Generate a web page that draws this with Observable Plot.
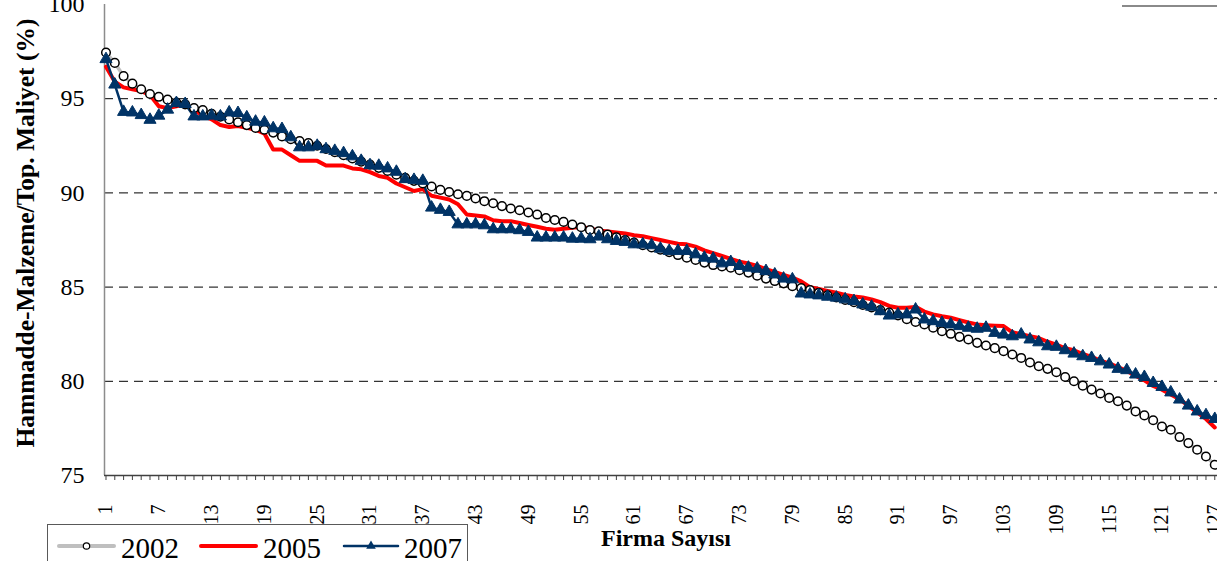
<!DOCTYPE html>
<html><head><meta charset="utf-8">
<script src="https://cdn.jsdelivr.net/npm/d3@7"></script>
<script src="https://cdn.jsdelivr.net/npm/@observablehq/plot@0.6"></script>
<style>
body{margin:0;background:#fff;}
#wrap{position:relative;width:1217px;height:561px;overflow:hidden;background:#fff;}
#legend{position:absolute;left:47px;top:524px;width:421px;height:50px;border:1.5px solid #595959;box-sizing:border-box;background:#fff;}
#topline{position:absolute;left:1122px;top:5px;width:95px;height:2px;background:#8a8a8a;}
</style></head><body>
<div id="wrap"><div id="chart"></div><div id="legend"></div><div id="topline"></div></div>
<script>
const years = ["2002", "2005", "2007"];
const colors = ["#bfbfbf", "#ff0000", "#003366"];
const firms = d3.range(1, 128);
const xLabelTicks = [1,7,13,19,25,31,37,43,49,55,61,67,73,79,85,91,97,103,109,115,121,127];
const yTicks = [75, 80, 85, 90, 95, 100];
const gridValues = [80, 85, 90, 95];
const xTitle = "Firma Sayısı";
const yTitle = "Hammadde-Malzeme/Top. Maliyet (%)";

const y2002 = [97.45,96.9,96.2,95.8,95.5,95.25,95.1,94.95,94.8,94.7,
94.5,94.4,94.2,94.05,93.9,93.75,93.6,93.45,93.35,93.2,
93.0,92.85,92.75,92.64,92.5,92.33,92.16,92.0,91.83,91.66,
91.5,91.33,91.16,90.97,90.8,90.64,90.5,90.34,90.16,90.05,
89.93,89.84,89.7,89.56,89.45,89.3,89.17,89.08,88.96,88.85,
88.67,88.56,88.46,88.32,88.18,88.03,87.96,87.79,87.64,87.5,
87.36,87.22,87.1,86.98,86.85,86.7,86.56,86.44,86.3,86.17,
86.1,86.03,85.9,85.77,85.6,85.45,85.32,85.2,85.05,84.95,
84.84,84.7,84.57,84.45,84.32,84.2,84.05,83.92,83.78,83.65,
83.5,83.3,83.15,83.02,82.84,82.66,82.52,82.36,82.22,82.04,
81.9,81.76,81.6,81.42,81.24,81.0,80.8,80.66,80.48,80.23,
80.0,79.77,79.56,79.35,79.12,78.94,78.71,78.4,78.19,77.93,
77.6,77.43,77.04,76.72,76.37,76.01,75.57];

const y2005 = [96.7,95.9,95.6,95.5,95.4,95.2,94.6,94.5,94.6,94.7,
94.4,94.1,93.9,93.6,93.5,93.55,93.45,93.35,93.15,92.3,
92.3,92.0,91.7,91.7,91.7,91.45,91.45,91.45,91.3,91.25,
91.1,90.9,90.8,90.5,90.3,90.1,90.2,89.85,89.75,89.65,
89.4,88.85,88.8,88.75,88.55,88.5,88.5,88.4,88.3,88.2,
88.1,88.05,88.1,88.15,88.2,88.1,88.0,87.95,87.9,87.85,
87.75,87.7,87.6,87.5,87.4,87.3,87.27,87.15,86.95,86.8,
86.65,86.5,86.35,86.25,86.12,85.95,85.8,85.65,85.5,85.3,
85.0,84.9,84.8,84.7,84.58,84.5,84.45,84.35,84.2,84.0,
83.9,83.9,83.95,83.7,83.55,83.45,83.37,83.25,83.12,83.02,
82.98,82.95,82.93,82.6,82.5,82.4,82.3,82.1,81.95,81.75,
81.65,81.45,81.3,81.1,80.95,80.75,80.55,80.3,80.05,79.75,
79.55,79.3,79.05,78.7,78.35,78.0,77.55];

const y2007 = [97.1,95.75,94.3,94.27,94.13,93.88,94.1,94.42,94.77,94.72,
94.06,94.06,94.1,94.06,94.27,94.24,94.01,93.78,93.74,93.43,
93.39,92.95,92.42,92.42,92.5,92.32,92.23,92.11,91.94,91.7,
91.47,91.44,91.3,91.12,90.73,90.69,90.64,89.22,89.1,88.99,
88.33,88.33,88.33,88.28,88.07,88.07,88.07,88.02,87.93,87.63,
87.63,87.63,87.63,87.57,87.57,87.54,87.68,87.54,87.45,87.4,
87.27,87.27,87.22,87.04,86.92,86.92,86.92,86.74,86.56,86.51,
86.26,86.33,86.12,86.03,85.98,85.85,85.67,85.45,85.41,84.66,
84.61,84.56,84.49,84.44,84.35,84.26,84.08,83.96,83.72,83.49,
83.55,83.55,83.81,83.28,83.19,83.1,83.02,82.93,82.84,82.79,
82.84,82.57,82.48,82.39,82.48,82.22,82.07,81.86,81.83,81.65,
81.47,81.33,81.24,81.06,80.89,80.66,80.59,80.36,80.23,79.91,
79.7,79.41,79.03,78.71,78.4,78.2,78.0];

const toRows = (vals) => firms.map((f, i) => ({firm: f, value: vals[i]}));
const d2002 = toRows(y2002), d2005 = toRows(y2005), d2007 = toRows(y2007);

const xDomain = [0.83, 127.31];

const chart = Plot.plot({
  width: 1217, height: 561,
  marginLeft: 104, marginRight: 0, marginTop: 4, marginBottom: 86,
  x: {domain: xDomain},
  y: {domain: [75, 100]},
  style: {fontFamily: "'Liberation Serif', 'Times New Roman', serif", background: "white", overflow: "visible", color: "black"},
  marks: [
    Plot.ruleY(gridValues, {stroke: "black", strokeDasharray: "9,6", strokeWidth: 1}),
    Plot.ruleX([xDomain[0]], {stroke: "#8c8c8c", strokeWidth: 1.5}),
    Plot.ruleY([75], {stroke: "#404040", strokeWidth: 1.3}),
    Plot.axisY({ticks: yTicks, tickSize: 0, tickPadding: 20, fontSize: 24, label: null}),
    Plot.axisX({ticks: firms, tickSize: 5, tickFormat: () => "", label: null, stroke: "#404040"}),
    Plot.axisX({ticks: xLabelTicks, tickSize: 0, tickPadding: 29, tickRotate: -90, fontSize: 20, label: null}),
    Plot.line(d2002, {x: "firm", y: "value", stroke: colors[0], strokeWidth: 3.5}),
    Plot.line(d2005, {x: "firm", y: "value", stroke: colors[1], strokeWidth: 4}),
    Plot.line(d2007, {x: "firm", y: "value", stroke: colors[2], strokeWidth: 2.5}),
    Plot.dot(d2002, {x: "firm", y: "value", r: 4.3, fill: "white", stroke: "black", strokeWidth: 1.5}),
    Plot.dot(d2007, {x: "firm", y: "value", symbol: "triangle", r: 4.5, fill: colors[2], stroke: colors[2], strokeWidth: 1}),
    Plot.text([yTitle], {text: d => d, frameAnchor: "left", textAnchor: "middle", dx: -79, dy: -7, rotate: -90, fontSize: 25.5, fontWeight: "bold"}),
    Plot.text([xTitle], {text: d => d, frameAnchor: "bottom", dy: 70, dx: 5, fontSize: 24, fontWeight: "bold"})
  ]
});
document.getElementById("chart").appendChild(chart);

// Legend
const leg = d3.select("#legend").append("svg").attr("width", 421).attr("height", 50)
  .style("font-family", "'Liberation Serif', 'Times New Roman', serif");
const legItems = [
  {x0: 11, x1: 66, tx: 73, marker: "circle"},
  {x0: 153, x1: 208, tx: 215, marker: null},
  {x0: 296, x1: 350, tx: 356, marker: "triangle"}
];
years.forEach((yr, i) => {
  const it = legItems[i];
  const g = leg.append("g");
  g.append("line").attr("x1", it.x0).attr("x2", it.x1).attr("y1", 21).attr("y2", 21)
    .attr("stroke", colors[i]).attr("stroke-width", i === 2 ? 2.5 : 4).attr("stroke-linecap", "round");
  const cx = (it.x0 + it.x1) / 2;
  if (it.marker === "circle") {
    g.append("circle").attr("cx", cx).attr("cy", 21).attr("r", 3.2).attr("fill", "white").attr("stroke", "black").attr("stroke-width", 1.2);
  } else if (it.marker === "triangle") {
    g.append("path").attr("d", d3.symbol(d3.symbolTriangle, 40)()).attr("transform", `translate(${cx},21)`).attr("fill", colors[2]);
  }
  g.append("text").attr("x", it.tx).attr("y", 33).attr("font-size", 29).attr("fill", "black").text(yr);
});
</script>
</body></html>
